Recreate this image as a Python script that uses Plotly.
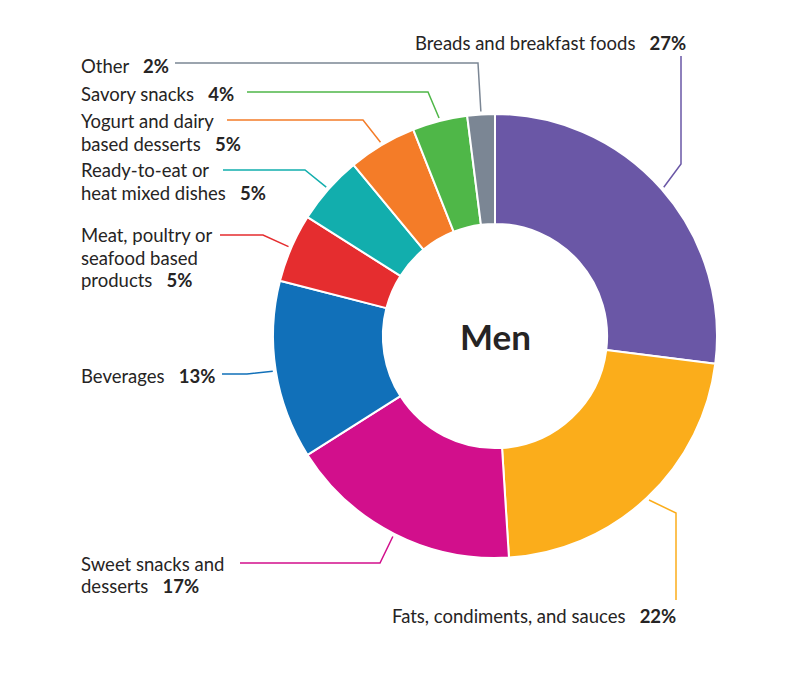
import numpy as np
import plotly.graph_objects as go

# ---- data ----
categories = [
    "Breads and breakfast foods",
    "Fats, condiments, and sauces",
    "Sweet snacks and desserts",
    "Beverages",
    "Meat, poultry or seafood based products",
    "Ready-to-eat or heat mixed dishes",
    "Yogurt and dairy based desserts",
    "Savory snacks",
    "Other",
]
values = [27, 22, 17, 13, 5, 5, 5, 4, 2]
label_lines = [
    ["Breads and breakfast foods"],
    ["Fats, condiments, and sauces"],
    ["Sweet snacks and", "desserts"],
    ["Beverages"],
    ["Meat, poultry or", "seafood based", "products"],
    ["Ready-to-eat or", "heat mixed dishes"],
    ["Yogurt and dairy", "based desserts"],
    ["Savory snacks"],
    ["Other"],
]
colors = ["#6a57a6", "#fbad1b", "#d20f8c", "#1170b9", "#e52d2f",
          "#12aead", "#f47c28", "#4fb748", "#7b8694"]
center_title = "Men"

# ---- layout constants (pixels) ----
W, H = 800, 680
CX, CY, R = 495, 336, 222
R_ANCHOR = 225
FONT_SIZE = 18.5
LINE_SP = 22.5
# label text: left x, centre y of the text block
label_pos = [
    (414, 43),
    (391, 616),
    (80, 575),
    (80, 376),
    (80, 257.5),
    (80, 181.5),
    (80, 132.5),
    (80, 94),
    (80, 66),
]
# leader lines: start point near text, elbow point
leaders = [
    ((681, 56), (681, 164)),
    ((676, 600), (676, 513)),
    ((240, 563), (380, 563)),
    ((222, 374), (247, 374)),
    ((220, 235), (263, 235)),
    ((223, 170), (305, 170)),
    ((227, 120), (363, 120)),
    ((247, 92), (428, 92)),
    ((175, 63), (478, 63)),
]

FONT = "Lato"
TXT = "#262424"

fig = go.Figure()

fig.add_trace(go.Pie(
    labels=categories, values=values, sort=False, direction="clockwise",
    rotation=0, hole=0.505, textinfo="none", hoverinfo="label+percent",
    marker=dict(colors=colors, line=dict(color="white", width=2)),
    domain=dict(x=[(CX - R) / W, (CX + R) / W],
                y=[(H - CY - R) / H, (H - CY + R) / H]),
    showlegend=False,
))

total = float(sum(values))
cum = np.cumsum(values)
for i, v in enumerate(values):
    a = np.deg2rad((cum[i] - v / 2.0) / total * 360.0)
    ax_ = CX + R_ANCHOR * np.sin(a)
    ay_ = CY - R_ANCHOR * np.cos(a)
    (sx, sy), (ex, ey) = leaders[i]
    fig.add_trace(go.Scatter(
        x=[sx, ex, ax_], y=[sy, ey, ay_], mode="lines",
        line=dict(color=colors[i], width=1.5), hoverinfo="skip",
        showlegend=False,
    ))

annotations = []
for i, lines in enumerate(label_lines):
    lx, cy_ = label_pos[i]
    n = len(lines)
    y0 = cy_ - (n - 1) * LINE_SP / 2.0
    for j, ln in enumerate(lines):
        t = ln
        if j == n - 1:
            t = ln + "\u00a0\u00a0\u00a0<b>%d%%</b>" % values[i]
        annotations.append(dict(
            x=lx, y=y0 + j * LINE_SP, xref="x", yref="y", text=t,
            showarrow=False, xanchor="left", yanchor="middle",
            borderpad=0,
            font=dict(family=FONT, size=FONT_SIZE, color=TXT),
        ))

annotations.append(dict(
    x=CX, y=CY, xref="x", yref="y", text="<b>%s</b>" % center_title,
    showarrow=False, xanchor="center", yanchor="middle",
    font=dict(family=FONT, size=35, color=TXT),
))

fig.update_layout(
    width=W, height=H, margin=dict(l=0, r=0, t=0, b=0),
    paper_bgcolor="white", plot_bgcolor="white",
    xaxis=dict(range=[0, W], visible=False, fixedrange=True),
    yaxis=dict(range=[H, 0], visible=False, fixedrange=True),
    annotations=annotations,
)

fig.write_html("out.html")
